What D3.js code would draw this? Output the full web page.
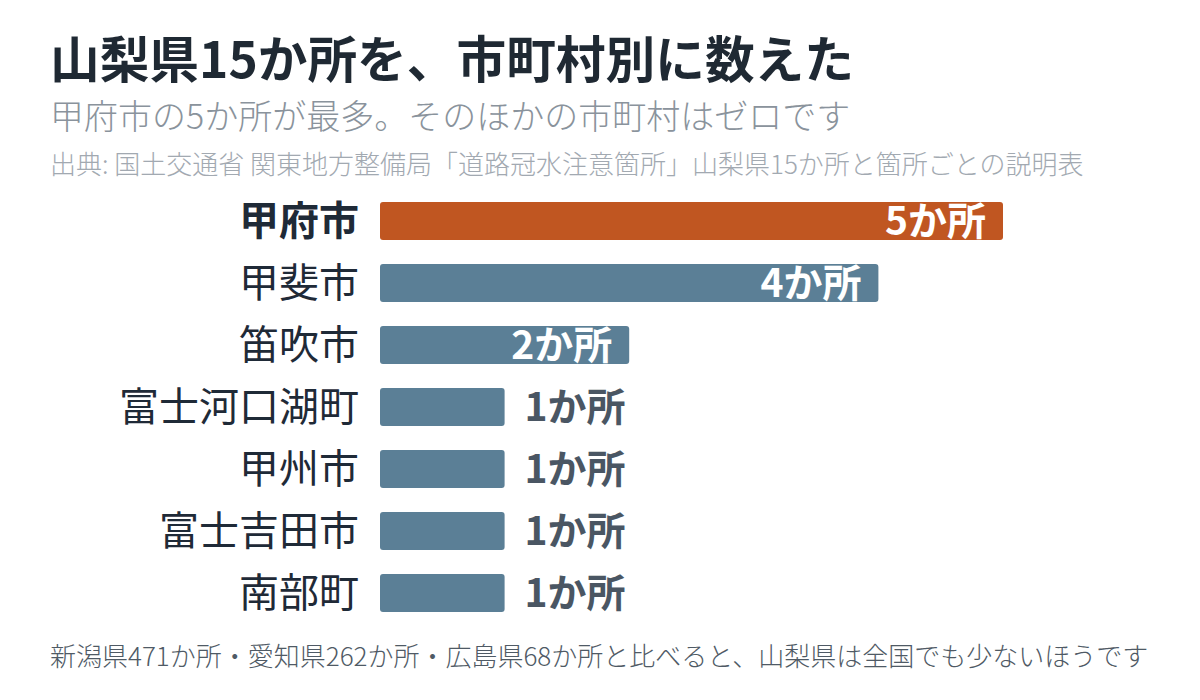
<!DOCTYPE html>
<html>
<head>
<meta charset="utf-8">
<script src="https://cdn.jsdelivr.net/npm/d3@7"></script>
<style>
body { margin: 0; background: #fff; }
text { font-family: "Noto Sans CJK JP", "Noto Sans", sans-serif; }
</style>
</head>
<body>
<script>
var width = 1200, height = 700,
	margin = { top: 202, left: 380, right: 197 },
	step = 62, barH = 38;

var cities = ["甲府市", "甲斐市", "笛吹市", "富士河口湖町", "甲州市", "富士吉田市", "南部町"],
	counts = [5, 4, 2, 1, 1, 1, 1],
	highlight = "甲府市",
	unit = "か所";

var title = "山梨県15か所を、市町村別に数えた",
	subtitle = "甲府市の5か所が最多。そのほかの市町村はゼロです",
	source = "出典: 国土交通省 関東地方整備局「道路冠水注意箇所」山梨県15か所と箇所ごとの説明表",
	footnote = "新潟県471か所・愛知県262か所・広島県68か所と比べると、山梨県は全国でも少ないほうです";

var data = cities.map(function (c, i) { return { city: c, value: counts[i] }; });

var svg = d3.select("body").append("svg")
	.attr("width", width)
	.attr("height", height);

svg.append("text").text(title)
	.attr("x", 50).attr("y", 78)
	.style("font-size", "49.7px").style("font-weight", 700)
	.style("fill", "#1f2933");

svg.append("text").text(subtitle)
	.attr("x", 50).attr("y", 129)
	.style("font-size", "34px").style("font-weight", 300)
	.style("fill", "#8a939c");

svg.append("text").text(source)
	.attr("x", 50).attr("y", 174)
	.style("font-size", "26px").style("font-weight", 300)
	.style("fill", "#a2a9b1");

svg.append("text").text(footnote)
	.attr("x", 50).attr("y", 666)
	.style("font-size", "26px").style("font-weight", 300)
	.style("fill", "#4f5a65");

var x = d3.scaleLinear()
	.domain([0, 5])
	.range([margin.left, width - margin.right]);

var y = d3.scaleBand()
	.domain(cities)
	.range([margin.top, margin.top + step * (cities.length - 1) + barH])
	.paddingInner((step - barH) / step)
	.paddingOuter(0);

var rows = svg.selectAll(".row")
	.data(data)
	.enter().append("g")
	.attr("class", "row");

rows.append("rect")
	.attr("x", x(0))
	.attr("y", function (d) { return y(d.city); })
	.attr("width", function (d) { return x(d.value) - x(0); })
	.attr("height", y.bandwidth())
	.attr("rx", 3).attr("ry", 3)
	.style("fill", function (d) { return d.city === highlight ? "#c05621" : "#5b7f96"; });

rows.append("text")
	.text(function (d) { return d.city; })
	.attr("x", x(0) - 21)
	.attr("y", function (d) { return y(d.city) + y.bandwidth() / 2; })
	.attr("dy", "0.35em")
	.style("text-anchor", "end")
	.style("font-size", "40px")
	.style("font-weight", function (d) { return d.city === highlight ? 700 : 400; })
	.style("fill", "#1f2a37");

// big bars get the label inside, small ones outside
rows.append("text")
	.text(function (d) { return d.value + unit; })
	.attr("x", function (d) { return d.value > 1 ? x(d.value) - 17 : x(d.value) + 20; })
	.attr("y", function (d) { return y(d.city) + y.bandwidth() / 2; })
	.attr("dy", "0.35em")
	.style("text-anchor", function (d) { return d.value > 1 ? "end" : "start"; })
	.style("font-size", "39px")
	.style("font-weight", 700)
	.style("fill", function (d) { return d.value > 1 ? "#ffffff" : "#4a5663"; });
</script>
</body>
</html>
